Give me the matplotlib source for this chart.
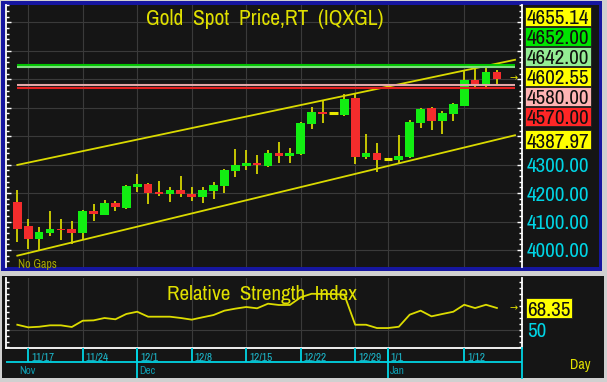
import numpy as np
import pandas as pd
import matplotlib
matplotlib.use('Agg')
import matplotlib.pyplot as plt
from matplotlib.patches import Rectangle
from matplotlib.ticker import MultipleLocator, FuncFormatter
from matplotlib import font_manager

# narrow font if one is there, else plain Liberation Sans
names = {f.name for f in font_manager.fontManager.ttflist}
FONT = 'Liberation Sans'
for n in ('Liberation Sans Narrow', 'Arial Narrow', 'Archivo Narrow'):
    if n in names:
        FONT = n
        break
plt.rcParams['font.family'] = [FONT, 'DejaVu Sans']

# ---- data ----
dates = pd.bdate_range('2025-11-14', '2026-01-15')
opens = [4170, 4084, 4039, 4059, 4075, 4075, 4059, 4136, 4124, 4164,
         4149, 4222, 4231, 4205, 4196, 4210, 4198, 4185, 4206, 4225,
         4278, 4296, 4305, 4296, 4341, 4332, 4336, 4443, 4486, 4480,
         4475, 4533, 4327, 4340, 4319, 4315, 4327, 4446, 4498, 4452,
         4477, 4506, 4598, 4581, 4627]
highs = [4211, 4110, 4080, 4137, 4110, 4101, 4141, 4161, 4176, 4171,
         4228, 4267, 4236, 4241, 4220, 4260, 4220, 4220, 4240, 4286,
         4356, 4351, 4335, 4350, 4379, 4357, 4451, 4502, 4525, 4480,
         4548, 4548, 4408, 4376, 4319, 4403, 4457, 4499, 4503, 4487,
         4518, 4634, 4639, 4648, 4634]
lows = [4029, 4005, 4000, 4049, 4035, 4021, 4038, 4103, 4124, 4138,
        4145, 4203, 4161, 4190, 4169, 4185, 4171, 4164, 4180, 4201,
        4255, 4281, 4267, 4293, 4305, 4307, 4334, 4426, 4447, 4480,
        4471, 4301, 4321, 4273, 4319, 4307, 4325, 4428, 4422, 4408,
        4453, 4505, 4571, 4570, 4580]
closes = [4075, 4039, 4064, 4075, 4070, 4059, 4136, 4127, 4165, 4151,
          4226, 4231, 4199, 4196, 4211, 4197, 4186, 4210, 4228, 4281,
          4299, 4306, 4297, 4341, 4332, 4341, 4446, 4485, 4477, 4480,
          4531, 4326, 4340, 4317, 4319, 4331, 4451, 4497, 4452, 4482,
          4512, 4599, 4585, 4627, 4602.55]
rsi = [54.2, 52.0, 52.5, 53.7, 53.7, 52.3, 57.6, 57.9, 59.9, 58.8,
       63.3, 65.2, 61.0, 61.0, 61.0, 59.9, 58.5, 60.5, 62.4, 66.1,
       67.8, 69.2, 68.1, 72.0, 70.9, 70.9, 77.4, 80.4, 80.2, 80.2,
       79.6, 54.2, 54.2, 51.4, 51.4, 52.5, 62.7, 66.1, 61.3, 63.3,
       65.2, 71.1, 68.3, 71.1, 68.35]

levels = [4652.00, 4642.00, 4580.00, 4570.00]
level_colors = ['#00c400', '#84dc84', '#e4a8a8', '#e42020']
channel_upper = (4299.0, 4655.14)   # first bar, last bar
channel_lower = (3980.0, 4387.97)

label_values = [4655.14, 4652.00, 4642.00, 4602.55, 4580.00, 4570.00, 4387.97]
label_colors = ['#ffff00', '#00e400', '#94ee94', '#ffff00', '#ffb4b4', '#ff2626', '#ffff00']

week_ticks = ['2025-11-17', '2025-11-24', '2025-12-01', '2025-12-08', '2025-12-15',
              '2025-12-22', '2025-12-29', '2026-01-01', '2026-01-12']
week_labels = ['11/17', '11/24', '12/1', '12/8', '12/15', '12/22', '12/29', '1/1', '1/12']
month_starts = ['2025-11-14', '2025-12-01', '2026-01-01']
month_labels = ['Nov', 'Dec', 'Jan']

# ---- styles ----
W, H = 607, 382
BG = '#151515'
GRID = '#3a3a3a'
YEL = '#e0e000'
CYAN = '#00d4e4'
UP, DN = '#12ee12', '#f42c2c'

def fr(x0, y0, x1, y1):
    return [x0 / W, 1 - y1 / H, (x1 - x0) / W, (y1 - y0) / H]

fig = plt.figure(figsize=(W / 100, H / 100), dpi=100, facecolor='#d0d0d0')

# size factor so a price label is as wide as in the picture (~63 px)
probe = fig.text(0, 0, '4655.14', fontsize=15)
fig.canvas.draw()
K = 63.0 / probe.get_window_extent().width
probe.remove()

fig.patches.append(Rectangle((1.5 / W, 1 - 270.7 / H), 600.8 / W, 269.7 / H,
                             transform=fig.transFigure, fc='#1616a0', ec='none', zorder=-3))
fig.patches.append(Rectangle((4.7 / W, 1 - 267 / H), 594.6 / W, 261.7 / H,
                             transform=fig.transFigure, fc=BG, ec='none', zorder=-2))
fig.patches.append(Rectangle((1.7 / W, 1 - 378.3 / H), 602.3 / W, 102.3 / H,
                             transform=fig.transFigure, fc=BG, ec='none', zorder=-2))

x = np.arange(len(dates))
tick_x = [dates.get_loc(pd.Timestamp(d)) for d in week_ticks]
month_x = [dates.get_loc(pd.Timestamp(d)) for d in month_starts]
xlim = (-1.01, 46.33)
x_end = 45.66

# ---- price panel ----
ax = fig.add_axes(fr(6.3, 5.3, 522.3, 267))
ax.set_facecolor('none')
ax.set_xlim(*xlim)
ax.set_ylim(3940.2, 4860.1)

o = np.array(opens, float); c = np.array(closes, float)
ax.vlines(x, lows, highs, color='#d4d400', lw=1.3, zorder=3)
doji = np.isclose(o, c)
cols = np.where(c > o, UP, DN)
ax.bar(x[~doji], (c - o)[~doji], bottom=o[~doji], width=0.8, color=cols[~doji], lw=0, zorder=4)
ax.hlines(c[doji], x[doji] - 0.4, x[doji] + 0.4, color='#e8e800', lw=2.2, zorder=4)

last = len(x) - 1
for s, e in (channel_upper, channel_lower):
    slope = (e - s) / last
    ax.plot([0, x_end], [s, s + slope * x_end], color='#dada00', lw=1.3, zorder=2)
for lv, lc in zip(levels, level_colors):
    ax.hlines(lv, 0, x_end, color=lc, lw=1.5, zorder=5)

ax.text(45.5, closes[-1], '→', fontsize=7, family='DejaVu Sans', color=YEL,
        ha='center', va='center', clip_on=False)

ax.set_xticks(tick_x)
ax.yaxis.set_major_locator(MultipleLocator(100))
ax.yaxis.set_minor_locator(MultipleLocator(20))
ax.yaxis.set_major_formatter(FuncFormatter(lambda v, p: f'{v:.2f}' if 3999 < v < 4301 else ''))
ax.grid(True, which='major', color=GRID, lw=0.8)
ax.tick_params(axis='x', length=0, labelbottom=False)
ax.tick_params(axis='y', which='both', direction='in', left=True, right=True,
               labelleft=False, labelright=True, color='white', labelcolor=CYAN,
               labelsize=15 * K, pad=3.2)
ax.tick_params(axis='y', which='major', length=3.5, width=1)
ax.tick_params(axis='y', which='minor', length=2, width=1)
for side in ('top', 'bottom'):
    ax.spines[side].set_visible(False)
for side in ('left', 'right'):
    ax.spines[side].set_color('white')
    ax.spines[side].set_linewidth(1.3)

fig.text(264.7 / W, 1 - 25 / H, 'Gold  Spot  Price,RT  (IQXGL)', fontsize=15.3 * K,
         color=YEL, ha='center', va='baseline')
fig.text(18.3 / W, 1 - 264 / H, 'No Gaps', fontsize=8.5 * K, color='#a8a800',
         ha='left', va='center')

# value boxes at right
def ypix(axis, v):
    return H - axis.transData.transform((0, v))[1]

fig.canvas.draw()
tops = [6.7 + 20.0 * k for k in range(6)] + [ypix(ax, label_values[-1]) - 9.7]
for t, v, col in zip(tops, label_values, label_colors):
    fig.patches.append(Rectangle((525.3 / W, 1 - (t + 19.4) / H), 66 / W, 19.4 / H,
                                 transform=fig.transFigure, fc=col, ec='#202020', lw=0.6))
    fig.text(527 / W, 1 - (t + 10.2) / H, f'{v:.2f}', fontsize=15 * K, color='#101010',
             ha='left', va='center_baseline')

# ---- RSI panel ----
ax2 = fig.add_axes(fr(6.3, 278, 522.3, 348))
ax2.set_facecolor('none')
ax2.set_xlim(*xlim)
ax2.set_ylim(34.53, 93.72)
ax2.plot(x, rsi, color='#dcdc00', lw=1.3, zorder=3)
ax2.text(45.5, rsi[-1], '→', fontsize=7, family='DejaVu Sans', color=YEL,
         ha='center', va='center', clip_on=False)
ax2.set_xticks(tick_x)
ax2.set_yticks([50])
ax2.yaxis.set_minor_locator(MultipleLocator(5))
ax2.grid(True, which='major', color=GRID, lw=0.8)
ax2.tick_params(axis='x', length=0, labelbottom=False)
ax2.tick_params(axis='y', which='both', direction='in', left=True, right=True,
                labelleft=False, labelright=True, color='white', labelcolor=CYAN,
                labelsize=15 * K, pad=3.2, length=2.5, width=1)
ax2.spines['top'].set_visible(False)
for side in ('left', 'right', 'bottom'):
    ax2.spines[side].set_color('white')
    ax2.spines[side].set_linewidth(1.3)
fig.text(262.3 / W, 1 - 299.7 / H, 'Relative  Strength  Index', fontsize=15 * K,
         color=YEL, ha='center', va='baseline', zorder=1)

fig.canvas.draw()
yc = ypix(ax2, rsi[-1])
fig.patches.append(Rectangle((525.7 / W, 1 - (yc + 9.7) / H), 46.3 / W, 19.4 / H,
                             transform=fig.transFigure, fc='#ffff00', ec='#202020', lw=0.6))
fig.text(527 / W, 1 - (yc + 0.5) / H, f'{rsi[-1]:.2f}', fontsize=15 * K, color='#101010',
         ha='left', va='center_baseline')

# ---- date band ----
ax3 = fig.add_axes(fr(6.3, 348, 522.3, 378.3))
ax3.set_xlim(*xlim)
ax3.set_ylim(0, 1)
ax3.axis('off')
ax3.axhline(0.528, color=CYAN, lw=1.3)
ax3.vlines(tick_x, 0.528, 1, color=CYAN, lw=1.3)
ax3.vlines(month_x[1:], 0, 1, color=CYAN, lw=1.3)
ax3.plot([1, 1], [0, 1], transform=ax3.transAxes, color=CYAN, lw=1.3, clip_on=False)
for tx, lab in zip(tick_x, week_labels):
    ax3.annotate(lab, (tx, 0.70), xytext=(2, 0), textcoords='offset points',
                 fontsize=8 * K, color='#1cb8cc', ha='left', va='center')
for mx, lab in zip(month_x, month_labels):
    ax3.annotate(lab, (mx, 0.24), xytext=(1.2, 0), textcoords='offset points',
                 fontsize=8 * K, color='#0c9cb0', ha='left', va='center')
fig.text(580 / W, 1 - 364.7 / H, 'Day', fontsize=10 * K, color=YEL, ha='center', va='center')

fig.savefig('out.png', dpi=100, facecolor=fig.get_facecolor())
